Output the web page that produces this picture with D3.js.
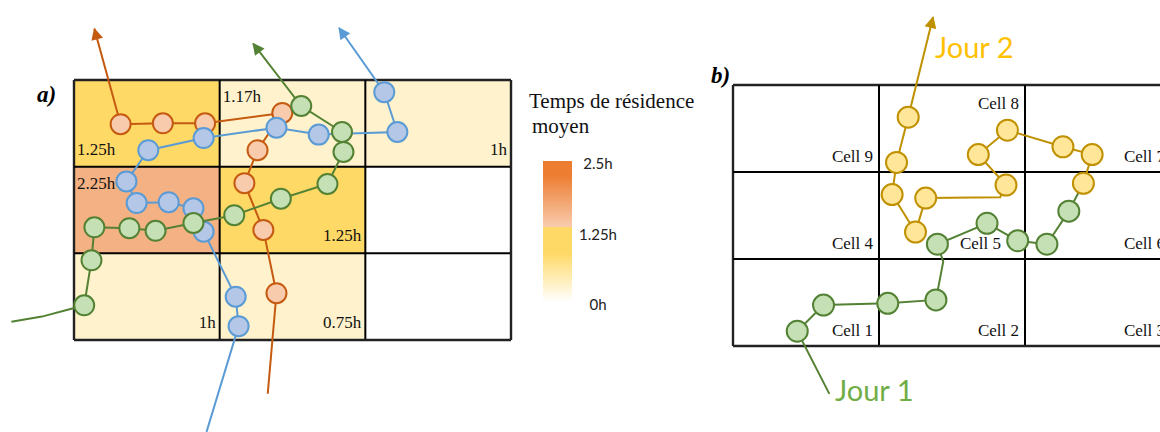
<!DOCTYPE html>
<html>
<head>
<meta charset="utf-8">
<script src="https://cdn.jsdelivr.net/npm/d3@7"></script>
<style>
  html, body { margin: 0; padding: 0; background: #fff; }
  svg { display: block; }
</style>
</head>
<body>
<svg id="chart" width="1160" height="432"></svg>
<script>
// ---------------- DATA ----------------
// Panel a) mean residence time per grid cell (rows top->bottom, cols left->right), hours
const residence = [
  [1.25, 1.17, 1.0],
  [2.25, 1.25, null],
  [1.0, 0.75, null]
];
// corner where each value label sits
const residenceCorner = [
  ["bl", "tl", "br"],
  ["tl", "br", null],
  ["br", "br", null]
];
// Trajectories in panel a) (grid units: one cell = 100), [x, y, stop(1)/vertex(0)]
const trajOrange = [[133,362,0],[139,246,1],[130,173,1],[117,119,1],[126,81,1],[143,38,1],[90,50,1],[61,50,1],[32,51,1],[14,-59,0]];
const trajBlue = [[91,406,0],[113,284,1],[111,250,1],[89,175,1],[82,148,1],[65,141,1],[43,142,1],[36,117,1],[51,81,1],[89,67,1],[139,55,1],[168,63,1],[222,60,1],[213,14,1],[182,-60,0]];
const trajGreen = [[-43,279,0],[-22,273,0],[7,260,1],[12,208,1],[14,170,1],[38,171,1],[56,174,1],[82,165,1],[110,156,1],[142,137,1],[174,120,1],[185,83,1],[184,60,1],[156,30,1],[123,-42,0]];

// Legend
const legendTitle = ["Temps de résidence", "moyen"];
const legendTicks = [2.5, 1.25, 0];
const legendTickLabels = ["2.5h", "1.25h", "0h"];
const legendStopValues = [2.5, 2.25, 1.33, 1.32, 0.87, 0];
const legendStopColors = ["#ED7D31", "#ED7D31", "#F8CBAD", "#FFD966", "#FFD966", "#FFFFFF"];

// Panel b) cells and the two days
const cellNames = [
  ["Cell 9", "Cell 8", "Cell 7"],
  ["Cell 4", "Cell 5", "Cell 6"],
  ["Cell 1", "Cell 2", "Cell 3"]
];
const jour1 = [[66,355,0],[44,283,1],[62,253,1],[106,251,1],[139,247,1],[144,203,0],[140,183,1],[174,159,1],[195,179,1],[215,183,1],[230,145,1],[240,113,0]];
const jour2 = [[240,113,1],[246,80,1],[226,71,1],[188,52,1],[168,80,1],[187,115,1],[183,129,0],[132,130,1],[125,169,1],[109,126,1],[112,89,1],[120,37,1],[137,-78,0]];
const dayLabels = ["Jour 1", "Jour 2"];

// ---------------- DRAW ----------------
const svg = d3.select("#chart");
const SERIF = "'Liberation Serif', 'Times New Roman', serif";
const SANS = "Lato, 'Open Sans', sans-serif";

const defs = svg.append("defs");
function marker(id, color) {
  defs.append("marker").attr("id", id)
    .attr("viewBox", "0 0 10 10").attr("refX", 9).attr("refY", 5)
    .attr("markerUnits", "userSpaceOnUse")
    .attr("markerWidth", 13).attr("markerHeight", 12)
    .attr("orient", "auto")
    .append("path").attr("d", "M0,0 L10,5 L0,10 Z").attr("fill", color);
}
marker("arOrange", "#C55A11");
marker("arBlue", "#5B9BD5");
marker("arGreen", "#548235");
marker("arYellow", "#BF9000");

// scales panel a
const xA = d3.scaleLinear().domain([0, 300]).range([74, 511]);
const yA = d3.scaleLinear().domain([0, 300]).range([80, 340]);
const heat = d3.scaleThreshold().domain([1.2, 2]).range(["#FFF2CC", "#FFD966", "#F4B183"]);

const gA = svg.append("g");
const cellsA = [];
residence.forEach((row, r) => row.forEach((v, c) => cellsA.push({ r, c, v, corner: residenceCorner[r][c] })));
gA.selectAll("rect.cell").data(cellsA).enter().append("rect")
  .attr("x", d => xA(d.c * 100)).attr("y", d => yA(d.r * 100))
  .attr("width", xA(100) - xA(0)).attr("height", yA(100) - yA(0))
  .attr("fill", d => d.v == null ? "#FFFFFF" : heat(d.v));

function drawGrid(g, xs, ys) {
  [0, 100, 200, 300].forEach(t => {
    const outer = (t === 0 || t === 300);
    g.append("line").attr("x1", xs(t)).attr("x2", xs(t)).attr("y1", ys(0) - (outer ? 0 : 0)).attr("y2", ys(300))
      .attr("stroke", outer ? "#222" : "#000").attr("stroke-width", outer ? 2.4 : 2);
    g.append("line").attr("y1", ys(t)).attr("y2", ys(t)).attr("x1", xs(0)).attr("x2", xs(300))
      .attr("stroke", outer ? "#222" : "#000").attr("stroke-width", outer ? 2.4 : 2);
  });
}
drawGrid(gA, xA, yA);

gA.selectAll("text.val").data(cellsA.filter(d => d.v != null)).enter().append("text")
  .attr("font-family", SERIF).attr("font-size", 17).attr("fill", "#111")
  .attr("x", d => d.corner === "br" ? xA(d.c * 100 + 100) - 4 : xA(d.c * 100) + 3)
  .attr("y", d => d.corner === "tl" ? yA(d.r * 100) + 22 : yA(d.r * 100 + 100) - 12)
  .attr("text-anchor", d => d.corner === "br" ? "end" : "start")
  .text(d => d.v + "h");

function drawTraj(g, pts, xs, ys, stroke, fill, markerId, r) {
  const line = d3.line().x(d => xs(d[0])).y(d => ys(d[1]));
  g.append("path").attr("d", line(pts)).attr("fill", "none")
    .attr("stroke", stroke).attr("stroke-width", 2)
    .attr("marker-end", markerId ? `url(#${markerId})` : null);
  g.selectAll(null).data(pts.filter(d => d[2] === 1)).enter().append("circle")
    .attr("cx", d => xs(d[0])).attr("cy", d => ys(d[1])).attr("r", r)
    .attr("fill", fill).attr("stroke", stroke).attr("stroke-width", 2);
}
drawTraj(gA, trajOrange, xA, yA, "#C55A11", "#F8CBAD", "arOrange", 10);
drawTraj(gA, trajBlue, xA, yA, "#5B9BD5", "#B4C7E7", "arBlue", 10);
drawTraj(gA, trajGreen, xA, yA, "#548235", "#C5E0B4", "arGreen", 10);

svg.append("text").attr("x", 37).attr("y", 102)
  .attr("font-family", SERIF).attr("font-size", 23).attr("font-weight", "bold").attr("font-style", "italic")
  .text("a)");

// legend
const yL = d3.scaleLinear().domain([0, 2.5]).range([302, 161]);
const grad = defs.append("linearGradient").attr("id", "legGrad")
  .attr("x1", 0).attr("y1", yL(2.5)).attr("x2", 0).attr("y2", yL(0))
  .attr("gradientUnits", "userSpaceOnUse");
legendStopValues.forEach((v, i) => {
  grad.append("stop").attr("offset", (yL(v) - yL(2.5)) / (yL(0) - yL(2.5)))
    .attr("stop-color", legendStopColors[i]);
});
svg.append("rect").attr("x", 543).attr("y", yL(2.5)).attr("width", 29)
  .attr("height", yL(0) - yL(2.5)).attr("fill", "url(#legGrad)");
svg.selectAll("text.lt").data(legendTitle).enter().append("text")
  .attr("x", (d, i) => i === 0 ? 529 : 532).attr("y", (d, i) => 108 + i * 25)
  .attr("font-family", SERIF).attr("font-size", 21).attr("fill", "#111").text(d => d);
svg.selectAll("text.tk").data(legendTicks).enter().append("text")
  .attr("x", 598).attr("y", d => yL(d) + 3).attr("dy", "0.35em")
  .attr("text-anchor", "middle").attr("font-family", SANS).attr("font-size", 15).attr("fill", "#222")
  .text((d, i) => legendTickLabels[i]);

// panel b
const xB = d3.scaleLinear().domain([0, 300]).range([733, 1171]);
const yB = d3.scaleLinear().domain([0, 300]).range([85, 346]);
const gB = svg.append("g");
drawGrid(gB, xB, yB);
const cellsB = [];
cellNames.forEach((row, r) => row.forEach((n, c) => cellsB.push({ r, c, n })));
gB.selectAll("text.cn").data(cellsB).enter().append("text")
  .attr("font-family", SERIF).attr("font-size", 17).attr("fill", "#111")
  .attr("text-anchor", "end")
  .attr("x", d => xB(d.c * 100 + 100) - (d.n === "Cell 5" ? 24 : 6))
  .attr("y", d => d.n === "Cell 8" ? yB(d.r * 100) + 24 : yB(d.r * 100 + 100) - 10)
  .text(d => d.n);

drawTraj(gB, jour1, xB, yB, "#548235", "#C5E0B4", null, 10.5);
drawTraj(gB, jour2, xB, yB, "#BF9000", "#FFE699", "arYellow", 10.5);

svg.append("text").attr("x", 711).attr("y", 83)
  .attr("font-family", SERIF).attr("font-size", 23).attr("font-weight", "bold").attr("font-style", "italic")
  .text("b)");
svg.append("text").attr("x", 835).attr("y", 401).attr("font-family", SANS).attr("font-size", 29)
  .attr("fill", "#70AD47").text(dayLabels[0]);
svg.append("text").attr("x", 935).attr("y", 58).attr("font-family", SANS).attr("font-size", 29)
  .attr("fill", "#FFC000").text(dayLabels[1]);
</script>
</body>
</html>
